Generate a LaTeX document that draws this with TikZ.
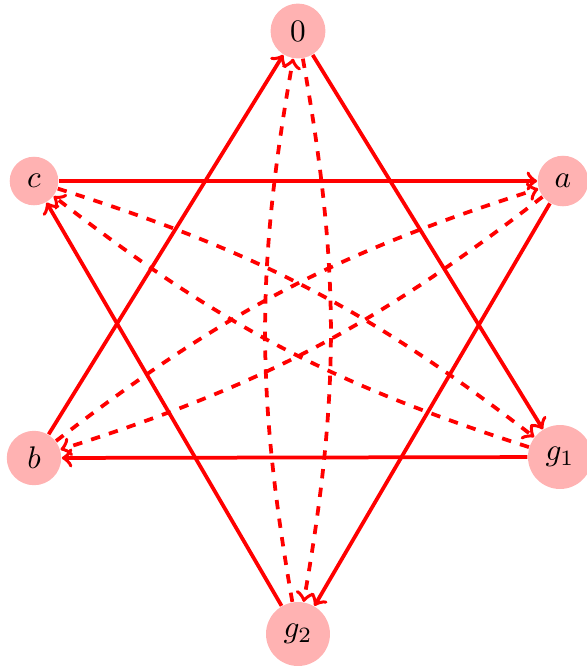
\documentclass[tikz,border=0pt]{standalone}
\usepackage{amsmath, amssymb}
\usepackage{xcolor}
\usepackage{tikz}
\usetikzlibrary{arrows, positioning, calc}

\begin{document}
\begin{tikzpicture}[
    x=0.32pt, y=-0.32pt,
    vert/.style={circle, fill=red!30, inner sep=0.333em},
    edge/.style={very thick, red, ->},
    back/.style={very thick, red, ->, dashed, bend left=10}
]
\useasboundingbox (0,0) rectangle (587,669);

\node[vert] (z) at (298,31) {$0$};
\node[vert] (c) at (34,181) {$c$};
\node[vert] (a) at (563,181) {$a$};
\node[vert] (b) at (34,458) {$b$};
\node[vert] (g1) at (560,457) {$g_1$};
\node[vert] (g2) at (298,634) {$g_2$};

% solid triangles
\draw[edge] (c) -- (a);
\draw[edge] (g1) -- (b);
\draw[edge] (b) -- (z);
\draw[edge] (z) -- (g1);
\draw[edge] (g2) -- (c);
\draw[edge] (a) -- (g2);

% dashed pairs
\draw[back] (z) to (g2);
\draw[back] (g2) to (z);
\draw[back] (c) to (g1);
\draw[back] (g1) to (c);
\draw[back] (a) to (b);
\draw[back] (b) to (a);

\end{tikzpicture}
\end{document}
